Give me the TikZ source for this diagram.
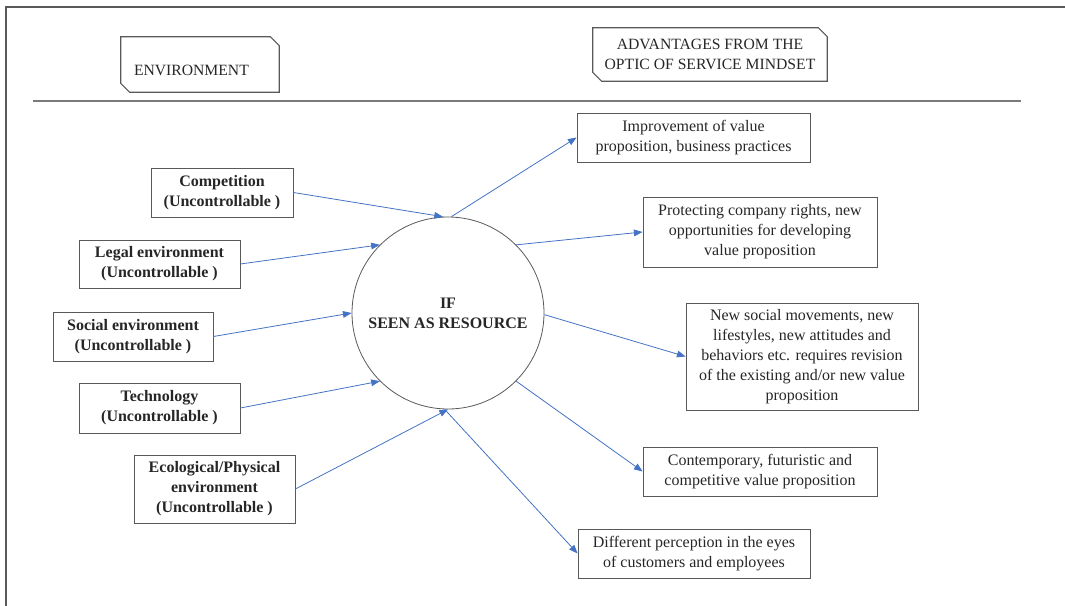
\documentclass[tikz,border=0pt]{standalone}
\usepackage{fontspec}
\setmainfont{Liberation Serif}
\usepackage{tikz}
\usetikzlibrary{arrows.meta,positioning}

\definecolor{arrblue}{HTML}{4472C4}
\definecolor{linegray}{HTML}{595959}
\definecolor{txtgray}{HTML}{262626}

% outline with two cut corners (top right, bottom left)
\newcommand{\snipbox}[1]{%
  \draw[linegray,line width=0.8pt] (#1.north west) -- ([xshift=-6.75pt]#1.north east)
    -- ([yshift=-6.75pt]#1.north east) -- (#1.south east)
    -- ([xshift=6.75pt]#1.south west) -- ([yshift=6.75pt]#1.south west) -- cycle;}

\begin{document}
\begin{tikzpicture}[x=0.75pt,y=-0.75pt]
  \tikzstyle{lbox}=[draw=linegray,line width=0.6pt,text=txtgray,align=center,inner sep=0pt,font=\fontsize{12}{15}\selectfont\bfseries]
  \tikzstyle{rbox}=[draw=linegray,line width=0.6pt,text=txtgray,align=center,inner sep=0pt,font=\fontsize{12}{15}\selectfont]
  \tikzstyle{head}=[text=txtgray,inner sep=0pt,font=\fontsize{11.75}{15}\selectfont]
  \tikzstyle{arr}=[-{Triangle[length=6.5pt,width=5pt]},arrblue,line width=0.6pt]
  \useasboundingbox (0,0) rectangle (1065,606);

  % frame and rule
  \draw[linegray,line width=1.1pt] (6,606) -- (6,7) -- (1065,7);
  \draw[linegray!80,line width=0.9pt] (33,101) -- (1021,101);

  % headings
  \node[head,minimum width=118.5pt,minimum height=41.25pt,text width=99pt,align=left] (env) at (200,64.5) {\raisebox{-8pt}[0pt][0pt]{ENVIRONMENT}};
  \snipbox{env}
  \node[head,minimum width=175.5pt,minimum height=39.75pt,align=center] (adv) at (710,54.5) {ADVANTAGES FROM THE\\OPTIC OF SERVICE MINDSET};
  \snipbox{adv}

  % centre
  \node[circle,draw=linegray,line width=0.6pt,minimum size=144pt,inner sep=0pt,text=txtgray,align=center,font=\fontsize{12}{15}\selectfont\bfseries] (res) at (448,313) {IF\\SEEN AS RESOURCE};

  % environment factors
  \node[lbox,minimum width=106.5pt,minimum height=36.75pt] (comp) at (222,192.5) {Competition\\(Uncontrollable )};
  \node[lbox,minimum width=120.75pt,minimum height=36pt] (legal) at (159.5,264) {Legal environment\\(Uncontrollable )};
  \node[lbox,minimum width=120pt,minimum height=36.75pt] (social) at (133,336.5) {Social environment\\(Uncontrollable )};
  \node[lbox,minimum width=120.75pt,minimum height=37.5pt] (tech) at (159.5,408) {Technology\\(Uncontrollable )};
  \node[lbox,minimum width=120.75pt,minimum height=51pt] (eco) at (214.5,489) {Ecological/Physical\\environment\\(Uncontrollable )};

  % advantages
  \node[rbox,minimum width=174.75pt,minimum height=36.75pt] (impr) at (693.5,137.5) {Improvement of value\\proposition, business practices};
  \node[rbox,minimum width=175.5pt,minimum height=52.5pt] (prot) at (760,232) {Protecting company rights, new\\opportunities for developing\\value proposition};
  \node[rbox,minimum width=174pt,minimum height=80.25pt] (newsoc) at (802,356.5) {New social movements, new\\lifestyles, new attitudes and\\behaviors etc. requires revision\\of the existing and/or new value\\proposition};
  \node[rbox,minimum width=175.5pt,minimum height=36.75pt] (cont) at (760,471.5) {Contemporary, futuristic and\\competitive value proposition};
  \node[rbox,minimum width=174pt,minimum height=36.75pt] (diff) at (694,553.5) {Different perception in the eyes\\of customers and employees};

  \draw[arr] (comp.east) -- (res.93);
  \draw[arr] (legal.east) -- (res.135);
  \draw[arr] (social.east) -- (res.180);
  \draw[arr] (tech.east) -- (res.225);
  \draw[arr] (eco.east) -- (res.270);

  \draw[arr] (res.88) -- (impr.west);
  \draw[arr] (res.45) -- (prot.west);
  \draw[arr] (res.-1) -- (newsoc.west);
  \draw[arr] (res.315) -- (cont.west);
  \draw[arr] (res.268) -- (diff.west);
\end{tikzpicture}
\end{document}
